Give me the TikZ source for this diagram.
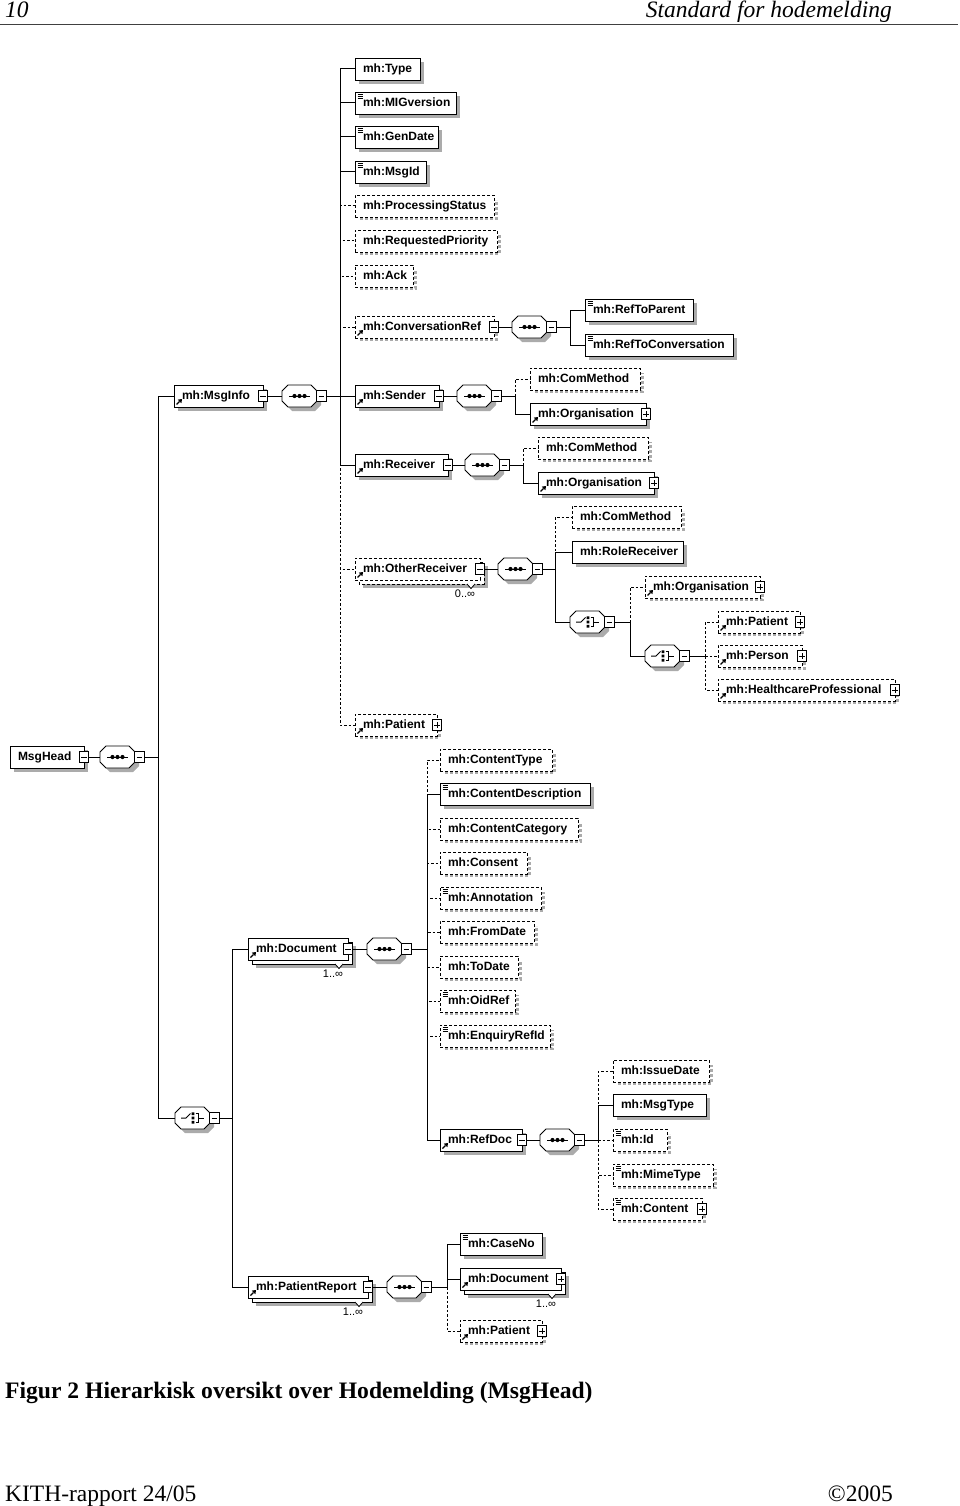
\documentclass[tikz,border=0pt]{standalone}
\usepackage{fontspec}
\setmainfont{Liberation Serif}
\newfontfamily\dfont{Liberation Sans}
\tikzset{
  bline/.style={line width=.9pt},
  ebox/.style={draw, bline, fill=white, anchor=west, inner xsep=8pt, inner ysep=5.5pt,
    text height=8.7pt, text depth=2.3pt, outer sep=0pt, align=left,
    font=\dfont\bfseries\fontsize{12}{13}\selectfont},
  opt/.style={dash pattern=on 3pt off 2pt},
  shad/.style={fill=black!33},
  oshad/.style={draw=black!33, line width=3pt, dash pattern=on 3pt off 2pt},
  pm/.style={draw, fill=white, line width=.8pt, minimum width=9.5pt, minimum height=11.5pt, inner sep=0pt, outer sep=0pt},
  cnode/.style={rectangle, minimum width=35pt, minimum height=22pt, inner sep=0pt, outer sep=0pt, anchor=west},
  cnt/.style={font=\dfont\fontsize{11}{11}\selectfont, inner sep=0pt},
  conn/.style={line width=1pt},
  oconn/.style={line width=1pt, dash pattern=on 2.5pt off 2pt},
}
% solid element
\newcommand\El[5]{%
  \fill[shad] (#2+4,#3-7) rectangle (#2+#4+4,#3+15);
  \node[ebox,text width=#4pt-16pt] (#1) at (#2,#3) {\mbox{#5}};}
% optional element
\newcommand\Eo[5]{%
  \draw[oshad] (#2+5,#3+12.5) -- (#2+#4+2.5,#3+12.5) -- (#2+#4+2.5,#3-6);
  \node[ebox,opt,text width=#4pt-16pt] (#1) at (#2,#3) {\mbox{#5}};}
% multiple element
\newcommand\Em[7][]{%
  \fill[shad] (#3+8,#4-3) rectangle (#3+#5+8,#4+19);
  \draw[fill=white,bline,#1] (#3+4,#4-7) rectangle (#3+#5+4,#4+15);
  \draw[fill=white,line width=.8pt] (#3+#5-13,#4+15) -- (#3+#5-9,#4+19.5) -- (#3+#5-5,#4+15);
  \node[ebox,#1,text width=#5pt-16pt] (#2) at (#3,#4) {\mbox{#6}};
  \node[cnt] (#2-c) at (#3+#5-15,#4+25) {#7};}
% decorations
\newcommand\Ic[1]{\draw[line width=.6pt] ([shift={(2.5,2.5)}]#1.north west) -- +(5.5,0)
  ([shift={(2.5,4.3)}]#1.north west) -- +(5.5,0) ([shift={(2.5,6.1)}]#1.north west) -- +(5.5,0);}
\newcommand\Rf[1]{\draw[line width=1.1pt] ([shift={(2.5,-2.5)}]#1.south west) -- +(3,-3);
  \fill ([shift={(8,-8)}]#1.south west) -- +(-4.2,.6) -- +(-.6,4.2) -- cycle;}
\newcommand\Mi[1]{\node[pm] (#1-m) at (#1.east) {};
  \draw[line width=.9pt] (#1-m.center) +(-2.8,0) -- +(2.8,0);}
\newcommand\Pl[1]{\Mi{#1}\draw[line width=.9pt] (#1-m.center) +(0,-2.8) -- +(0,2.8);}
% compositor symbols
\newcommand\syms[2]{\draw[line width=1pt] (#1+7,#2) -- (#1+28,#2);
  \fill (#1+12.5,#2) circle[radius=2.1pt] (#1+17.5,#2) circle[radius=2.1pt] (#1+22.5,#2) circle[radius=2.1pt];}
\newcommand\symc[2]{\draw[line width=1pt] (#1+6,#2) -- (#1+11,#2) -- (#1+15.5,#2-4.5);
  \fill (#1+16.5,#2-5.6) rectangle +(2.8,2.8) (#1+16.5,#2-1.4) rectangle +(2.8,2.8) (#1+16.5,#2+2.8) rectangle +(2.8,2.8);
  \draw[line width=1pt] (#1+20.5,#2-4.5) -- (#1+23.5,#2-4.5) -- (#1+23.5,#2+4.5) -- (#1+20.5,#2+4.5)
  (#1+23.5,#2) -- (#1+29,#2);}
\newcommand\Comp[4]{%
  \fill[shad] (#2+10,#3-7) -- (#2+33,#3-7) -- (#2+39,#3-1) -- (#2+39,#3+9) -- (#2+33,#3+15) -- (#2+10,#3+15) -- (#2+4,#3+9) -- (#2+4,#3-1) -- cycle;
  \node[cnode] (#1) at (#2,#3) {};
  \draw[fill=white,bline] (#2+6,#3-11) -- (#2+29,#3-11) -- (#2+35,#3-5) -- (#2+35,#3+5) -- (#2+29,#3+11) -- (#2+6,#3+11) -- (#2,#3+5) -- (#2,#3-5) -- cycle;
  #4{#2}{#3}%
  \node[pm] (#1-m) at (#2+39.5,#3) {};
  \draw[line width=.9pt] (#1-m.center) +(-2.8,0) -- +(2.8,0);}
\begin{document}
\begin{tikzpicture}[x=1pt,y=-1pt]
\useasboundingbox (0,0) rectangle (960,1506);
% header / footer
\node[anchor=base west, inner sep=0pt, font=\itshape\fontsize{23.5}{24}\selectfont] (pgno) at (5,18) {10};
\node[anchor=base east, inner sep=0pt, font=\itshape\fontsize{23.5}{24}\selectfont] (title) at (892,18) {Standard for hodemelding};
\draw[line width=1.6pt, black!75] (0,24.5) -- (958,24.5);
\node[anchor=base west, inner sep=0pt, font=\bfseries\fontsize{23.6}{24}\selectfont] (caption) at (5,1398) {Figur 2 Hierarkisk oversikt over Hodemelding (MsgHead)};
\node[anchor=base west, inner sep=0pt, font=\fontsize{23.5}{24}\selectfont] (foot1) at (5,1501) {KITH-rapport 24/05};
\node[anchor=base east, inner sep=0pt, font=\fontsize{23.5}{24}\selectfont] (foot2) at (893,1501) {\textcopyright2005};

% ---------- MsgInfo children ----------
\El{type}{355}{69}{65}{mh:Type}
\El{mig}{355}{103}{101}{mh:MIGversion}\Ic{mig}
\El{gen}{355}{137}{83}{mh:GenDate}\Ic{gen}
\El{msgid}{355}{172}{71}{mh:MsgId}\Ic{msgid}
\Eo{proc}{355}{206}{139}{mh:ProcessingStatus}
\Eo{prio}{355}{241}{142}{mh:RequestedPriority}
\Eo{ack}{355}{276}{58}{mh:Ack}
\Eo{conv}{355}{327}{139}{mh:ConversationRef}\Rf{conv}\Mi{conv}
\Comp{cs}{512}{327}{\syms}
\El{rtp}{585}{310}{108}{mh:RefToParent}\Ic{rtp}
\El{rtc}{585}{345}{148}{mh:RefToConversation}\Ic{rtc}

\El{msginfo}{174}{396}{89}{mh:MsgInfo}\Rf{msginfo}\Mi{msginfo}
\Comp{ms}{282}{396}{\syms}
\El{sender}{355}{396}{84}{mh:Sender}\Rf{sender}\Mi{sender}
\Comp{ss}{457}{396}{\syms}
\Eo{com1}{530}{379}{110}{mh:ComMethod}
\El{org1}{530}{414}{116}{mh:Organisation}\Rf{org1}\Pl{org1}
\El{recv}{355}{465}{93}{mh:Receiver}\Rf{recv}\Mi{recv}
\Comp{rs}{465}{465}{\syms}
\Eo{com2}{538}{448}{110}{mh:ComMethod}
\El{org2}{538}{483}{116}{mh:Organisation}\Rf{org2}\Pl{org2}
\Em[opt]{other}{355}{569}{125}{mh:OtherReceiver}{0..∞}\Rf{other}\Mi{other}
\Comp{os}{498}{569}{\syms}
\Eo{com3}{572}{517}{109}{mh:ComMethod}
\El{role}{572}{552}{111}{mh:RoleReceiver}
\Comp{ch1}{570}{622}{\symc}
\Eo{org3}{645}{587}{115}{mh:Organisation}\Rf{org3}\Pl{org3}
\Comp{ch2}{645}{656}{\symc}
\Eo{pat1}{718}{622}{82}{mh:Patient}\Rf{pat1}\Pl{pat1}
\Eo{pers}{718}{656}{84}{mh:Person}\Rf{pers}\Pl{pers}
\Eo{hp}{718}{690}{177}{mh:HealthcareProfessional}\Rf{hp}\Pl{hp}
\Eo{pat0}{355}{725}{82}{mh:Patient}\Rf{pat0}\Pl{pat0}

% ---------- root ----------
\El{head}{10}{757}{74}{MsgHead}\Mi{head}
\Comp{hs}{100}{757}{\syms}
\Comp{cho}{175}{1118}{\symc}

% ---------- Document ----------
\Em{doc}{248}{949}{100}{mh:Document}{1..∞}\Rf{doc}\Mi{doc}
\Comp{ds}{367}{949}{\syms}
\Eo{ctype}{440}{760}{112}{mh:ContentType}
\El{cdesc}{440}{794}{150}{mh:ContentDescription}\Ic{cdesc}
\Eo{ccat}{440}{829}{138}{mh:ContentCategory}
\Eo{cons}{440}{863}{87}{mh:Consent}
\Eo{annot}{440}{898}{101}{mh:Annotation}\Ic{annot}
\Eo{fromd}{440}{932}{94}{mh:FromDate}
\Eo{tod}{440}{967}{78}{mh:ToDate}
\Eo{oid}{440}{1001}{75}{mh:OidRef}\Ic{oid}
\Eo{enq}{440}{1036}{110}{mh:EnquiryRefId}\Ic{enq}
\El{refdoc}{440}{1140}{82}{mh:RefDoc}\Rf{refdoc}\Mi{refdoc}
\Comp{rds}{540}{1140}{\syms}
\Eo{issue}{613}{1071}{96}{mh:IssueDate}
\El{mtype}{613}{1105}{93}{mh:MsgType}
\Eo{id}{613}{1140}{54}{mh:Id}\Ic{id}
\Eo{mime}{613}{1175}{100}{mh:MimeType}\Ic{mime}
\Eo{content}{613}{1209}{89}{mh:Content}\Ic{content}\Pl{content}

% ---------- PatientReport ----------
\Em{pr}{248}{1287}{120}{mh:PatientReport}{1..∞}\Rf{pr}\Mi{pr}
\Comp{ps}{387}{1287}{\syms}
\El{caseno}{460}{1244}{82}{mh:CaseNo}\Ic{caseno}
\Em{doc2}{460}{1279}{101}{mh:Document}{1..∞}\Rf{doc2}\Pl{doc2}
\Eo{pat2}{460}{1331}{82}{mh:Patient}\Rf{pat2}\Pl{pat2}

% ---------- trunk coordinates ----------
\coordinate (T0) at (158,757);
\coordinate (T1) at (340,396);
\coordinate (T2) at (570,327);
\coordinate (T3) at (515,396);
\coordinate (T4) at (523,465);
\coordinate (T5) at (555,569);
\coordinate (T6) at (630,622);
\coordinate (T7) at (705,656);
\coordinate (T8) at (232,1118);
\coordinate (T9) at (427,949);
\coordinate (T10) at (598,1140);
\coordinate (T11) at (447,1287);

% ---------- connectors ----------
% optional (dashed) first
\foreach \c in {proc,prio,ack,conv,other,pat0} \draw[oconn] (T1) |- (\c.west);
\draw[oconn] (T3) |- (com1.west);
\draw[oconn] (T4) |- (com2.west);
\draw[oconn] (T5) |- (com3.west);
\draw[oconn] (T6) |- (org3.west);
\foreach \c in {pat1,pers,hp} \draw[oconn] (T7) |- (\c.west);
\foreach \c in {ctype,ccat,cons,annot,fromd,tod,oid,enq} \draw[oconn] (T9) |- (\c.west);
\foreach \c in {issue,id,mime,content} \draw[oconn] (T10) |- (\c.west);
\draw[oconn] (T11) |- (pat2.west);
% required (solid)
\draw[conn] (head-m.east) -- (hs.west);
\draw[conn] (hs-m.east) -- (T0);
\draw[conn] (T0) |- (msginfo.west);
\draw[conn] (T0) |- (cho.west);
\draw[conn] (msginfo-m.east) -- (ms.west);
\draw[conn] (ms-m.east) -- (T1);
\foreach \c in {type,mig,gen,msgid,sender,recv} \draw[conn] (T1) |- (\c.west);
\draw[conn] (conv-m.east) -- (cs.west);
\draw[conn] (cs-m.east) -- (T2);
\draw[conn] (T2) |- (rtp.west);
\draw[conn] (T2) |- (rtc.west);
\draw[conn] (sender-m.east) -- (ss.west);
\draw[conn] (ss-m.east) -- (T3);
\draw[conn] (T3) |- (org1.west);
\draw[conn] (recv-m.east) -- (rs.west);
\draw[conn] (rs-m.east) -- (T4);
\draw[conn] (T4) |- (org2.west);
\draw[conn] (other-m.east) -- (os.west);
\draw[conn] (os-m.east) -- (T5);
\draw[conn] (T5) |- (role.west);
\draw[conn] (T5) |- (ch1.west);
\draw[conn] (ch1-m.east) -- (T6);
\draw[conn] (T6) |- (ch2.west);
\draw[conn] (ch2-m.east) -- (T7);
\draw[conn] (cho-m.east) -- (T8);
\draw[conn] (T8) |- (doc.west);
\draw[conn] (T8) |- (pr.west);
\draw[conn] (doc-m.east) -- (ds.west);
\draw[conn] (ds-m.east) -- (T9);
\draw[conn] (T9) |- (cdesc.west);
\draw[conn] (T9) |- (refdoc.west);
\draw[conn] (refdoc-m.east) -- (rds.west);
\draw[conn] (rds-m.east) -- (T10);
\draw[conn] (T10) |- (mtype.west);
\draw[conn] (pr-m.east) -- (ps.west);
\draw[conn] (ps-m.east) -- (T11);
\draw[conn] (T11) |- (caseno.west);
\draw[conn] (T11) |- (doc2.west);
\end{tikzpicture}
\end{document}
